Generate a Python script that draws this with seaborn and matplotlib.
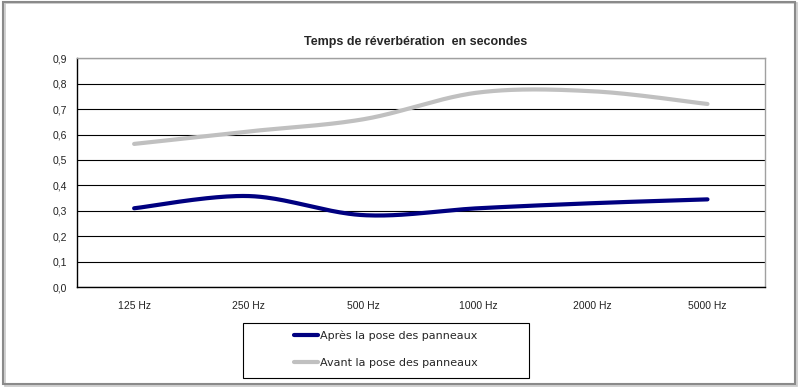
import numpy as np
import pandas as pd
import seaborn as sns
import matplotlib.pyplot as plt
from matplotlib.patches import Rectangle
from matplotlib.ticker import FuncFormatter

freqs = ['125 Hz', '250 Hz', '500 Hz', '1000 Hz', '2000 Hz', '5000 Hz']
apres = [0.31, 0.358, 0.283, 0.31, 0.33, 0.345]
avant = [0.563, 0.612, 0.66, 0.765, 0.77, 0.72]
yticks = [0.0, 0.1, 0.2, 0.3, 0.4, 0.5, 0.6, 0.7, 0.8, 0.9]
names = ['Après la pose des panneaux', 'Avant la pose des panneaux']
colors = ['#000080', '#c0c0c0']


def smooth(xs, ys, n=40):
    # Excel-style smoothed line (Bezier through points)
    p = np.column_stack([xs, ys]).astype(float)
    pp = np.vstack([p[0], p, p[-1]])
    out = []
    for i in range(len(p) - 1):
        p0, p1, p2, p3 = pp[i], pp[i + 1], pp[i + 2], pp[i + 3]
        c1 = p1 + (p2 - p0) / 6
        c2 = p2 - (p3 - p1) / 6
        t = np.linspace(0, 1, n)[:, None]
        seg = ((1 - t) ** 3) * p1 + 3 * ((1 - t) ** 2) * t * c1 + 3 * (1 - t) * t ** 2 * c2 + t ** 3 * p2
        out.append(seg if i == 0 else seg[1:])
    out = np.vstack(out)
    return out[:, 0], out[:, 1]


sns.set_style('white')
plt.rcParams['font.family'] = ['Liberation Sans', 'DejaVu Sans']

fig = plt.figure(figsize=(8, 3.88), dpi=100)
ax = fig.add_axes([0.096, 0.26, 0.86, 0.59])

x = np.arange(len(freqs))
rows = []
for name, vals in zip(names, [apres, avant]):
    sx, sy = smooth(x, vals)
    rows.append(pd.DataFrame({'x': sx, 'y': sy, 'serie': name}))
df = pd.concat(rows, ignore_index=True)

sns.lineplot(data=df, x='x', y='y', hue='serie', hue_order=names, estimator=None, sort=False,
             palette=colors, linewidth=3, ax=ax, legend=False)

ax.set_xlim(-0.5, len(freqs) - 0.5)
ax.set_ylim(0, 0.9)
ax.set_yticks(yticks)
ax.yaxis.set_major_formatter(FuncFormatter(lambda v, _: f'{v:.1f}'.replace('.', ',')))
ax.tick_params(axis='y', labelsize=7.5, labelcolor='#222222')
ax.set_xticks(x)
ax.set_xticklabels(freqs, fontsize=7.5, color='#222222')
ax.set_xticks(np.arange(-0.5, len(freqs)), minor=True)
ax.tick_params(axis='x', which='major', length=0, pad=10)
ax.tick_params(axis='x', which='minor', length=4, direction='out', color='black')
ax.tick_params(axis='y', length=4, direction='out', color='black', pad=3)
ax.yaxis.grid(True, color='black', linewidth=0.8)
ax.set_axisbelow(True)
for s in ['left', 'bottom']:
    ax.spines[s].set_color('black')
    ax.spines[s].set_linewidth(1)
for s in ['top', 'right']:
    ax.spines[s].set_color('#a0a0a0')
    ax.spines[s].set_linewidth(1)
ax.set_xlabel('')
ax.set_ylabel('')

fig.text(0.52, 0.892, 'Temps de réverbération  en secondes', ha='center', va='center',
         fontsize=9, fontweight='bold', family=['Liberation Sans Narrow', 'Liberation Sans', 'DejaVu Sans'])

handles = [plt.Line2D([], [], color=c, linewidth=3) for c in colors]
leg = fig.legend(handles, names, loc='center', bbox_to_anchor=(0.482, 0.1), frameon=False,
                 handlelength=2.2, handletextpad=0.1, labelspacing=1.5,
                 prop={'family': 'DejaVu Sans', 'size': 8})
fig.patches.append(Rectangle((0.304, 0.026), 0.3575, 0.142, transform=fig.transFigure,
                             fill=False, edgecolor='black', linewidth=0.8))

fig.patches.append(Rectangle((0.004, 0.01), 0.99, 0.985, transform=fig.transFigure,
                             fill=False, edgecolor='#8a8a8a', linewidth=1.5))
fig.patches.append(Rectangle((0.006, 0.006), 0.99, 0.985, transform=fig.transFigure,
                             fill=False, edgecolor='#c8c8c8', linewidth=1.2, zorder=-1))

fig.savefig('out.png', dpi=100)
